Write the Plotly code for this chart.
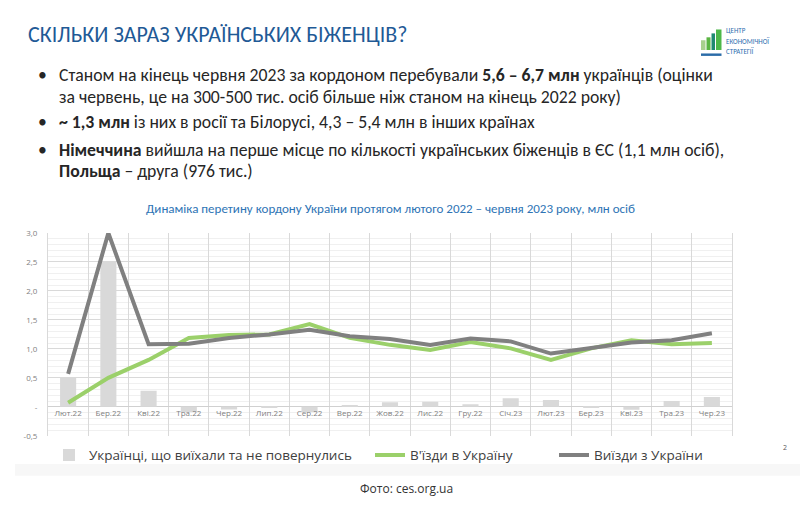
import plotly.graph_objects as go

W, H = 808, 511

months = ["Лют.22", "Бер.22", "Кві.22", "Тра.22", "Чер.22", "Лип.22", "Сер.22", "Вер.22",
          "Жов.22", "Лис.22", "Гру.22", "Січ.23", "Лют.23", "Бер.23", "Кві.23", "Тра.23", "Чер.23"]
net_left = [0.51, 2.50, 0.28, -0.09, -0.045, -0.005, -0.09, 0.03,
            0.08, 0.09, 0.045, 0.15, 0.12, -0.02, -0.05, 0.10, 0.17]
entries = [0.07, 0.50, 0.81, 1.19, 1.24, 1.25, 1.43, 1.19,
           1.07, 0.98, 1.12, 1.01, 0.81, 1.01, 1.15, 1.08, 1.10]
exits = [0.57, 3.00, 1.08, 1.09, 1.19, 1.25, 1.33, 1.22,
         1.17, 1.07, 1.18, 1.13, 0.92, 1.01, 1.11, 1.15, 1.27]
y_ticks = [-0.5, 0, 0.5, 1.0, 1.5, 2.0, 2.5, 3.0]
y_tick_text = ["-0,5", "-", "0,5", "1,0", "1,5", "2,0", "2,5", "3,0"]

NARROW = "Carlito, 'Liberation Sans Narrow', 'DejaVu Sans Condensed', sans-serif"
SANS = "'Open Sans', 'Noto Sans', sans-serif"

def px(x):
    return x / W

def py(y):
    return 1 - y / H

plot_l, plot_r, plot_t, plot_b = 48, 732, 232, 439.3
ymin, ymax = -0.5, 3.0
dom_y = [py(plot_b), py(plot_t)]
zero_pos = dom_y[0] + (0 - ymin) / (ymax - ymin) * (dom_y[1] - dom_y[0])

fig = go.Figure()
fig.add_trace(go.Bar(x=months, y=net_left, name="Українці, що виїхали та не повернулись",
                     marker=dict(color="#D9D9D9", line=dict(width=0)), legend="legend"))
fig.add_trace(go.Scatter(x=months, y=entries, name="В'їзди в Україну", mode="lines",
                         line=dict(color="#9BD06A", width=4), legend="legend2"))
fig.add_trace(go.Scatter(x=months, y=exits, name="Виїзди з України", mode="lines",
                         line=dict(color="#808080", width=4), legend="legend3"))

legend_common = dict(orientation="h", xanchor="left", yanchor="middle", bgcolor="rgba(0,0,0,0)",
                     font=dict(family=SANS, size=13.5, color="#404040"), itemwidth=30,
                     tracegroupgap=0)

shapes = [
    dict(type="rect", xref="paper", yref="paper", x0=px(15), x1=px(800), y0=py(480), y1=py(468),
         fillcolor="#F7F7F7", line=dict(width=0), layer="below"),
    # logo
    dict(type="rect", xref="paper", yref="paper", x0=px(701), x1=px(705.5), y0=py(45), y1=py(35),
         fillcolor="#A8D08D", line=dict(width=0)),
    dict(type="rect", xref="paper", yref="paper", x0=px(706.5), x1=px(710.5), y0=py(45), y1=py(32),
         fillcolor="#5BB543", line=dict(width=0)),
    dict(type="rect", xref="paper", yref="paper", x0=px(711.5), x1=px(715), y0=py(45), y1=py(28),
         fillcolor="#1F8A70", line=dict(width=0)),
    dict(type="rect", xref="paper", yref="paper", x0=px(716), x1=px(721.5), y0=py(45), y1=py(24),
         fillcolor="#4DB848", line=dict(width=0)),
    dict(type="rect", xref="paper", yref="paper", x0=px(701), x1=px(721.5), y0=py(51), y1=py(48.5),
         fillcolor="#2B6CA8", line=dict(width=0)),
]

ann = []
def text(x, y, s, size, color, family=NARROW, xanchor="left"):
    ann.append(dict(x=px(x), y=py(y), xref="paper", yref="paper", text=s, showarrow=False,
                    xanchor=xanchor, yanchor="middle", font=dict(family=family, size=size, color=color)))

text(26, 29, "СКІЛЬКИ ЗАРАЗ УКРАЇНСЬКИХ БІЖЕНЦІВ?", 22, "#1F5A96")
text(724, 25, "ЦЕНТР", 7, "#2F6FAF")
text(724, 36, "ЕКОНОМІЧНОЇ", 7, "#2F6FAF")
text(724, 47, "СТРАТЕГІЇ", 7, "#2F6FAF")

body = "#262626"
bsize = 17.7
for yb in (71, 119, 147):
    text(36, yb, "•", bsize, body)
text(57, 71, "Станом на кінець червня 2023 за кордоном перебували <b>5,6 – 6,7 млн</b> українців (оцінки", bsize, body)
text(57, 93, "за червень, це на 300-500 тис. осіб більше ніж станом на кінець 2022 року)", bsize, body)
text(57, 119, "<b>~ 1,3 млн</b> із них в росії та Білорусі, 4,3 – 5,4 млн в інших країнах", bsize, body)
text(57, 147, "<b>Німеччина</b> вийшла на перше місце по кількості українських біженців в ЄС (1,1 млн осіб),", bsize, body)
text(57, 169, "<b>Польща</b> – друга (976 тис.)", bsize, body)

text(390, 207, "Динаміка перетину кордону України протягом лютого 2022 – червня 2023 року, млн осіб",
     13, "#2E74B5", xanchor="center")
text(785, 451, "2", 7, "#595959", family=SANS, xanchor="center")
text(406, 493, "Фото: ces.org.ua", 12, "#333333", family=SANS, xanchor="center")

fig.update_layout(
    width=W, height=H,
    margin=dict(l=0, r=0, t=0, b=0),
    paper_bgcolor="white", plot_bgcolor="white",
    bargap=0.6,
    showlegend=True,
    legend=dict(x=px(49), y=py(459), **legend_common),
    legend2=dict(x=px(370), y=py(459), **legend_common),
    legend3=dict(x=px(554), y=py(459), **legend_common),
    xaxis=dict(domain=[px(plot_l), px(plot_r)], anchor="free", position=zero_pos,
               type="category", tickson="boundaries", ticks="", showgrid=True,
               gridcolor="#D9D9D9", gridwidth=1, showline=False, range=[-0.5, 16.5],
               tickfont=dict(family=SANS, size=8, color="#7F7F7F")),
    yaxis=dict(domain=dom_y, range=[ymin, ymax], tickvals=y_ticks, ticktext=y_tick_text,
               showgrid=True, gridcolor="#D9D9D9", gridwidth=1, zeroline=True,
               zerolinecolor="#D0D0D0", zerolinewidth=1, showline=True, mirror=True,
               linecolor="#D9D9D9", linewidth=1, ticks="", ticklabelstandoff=8,
               tickfont=dict(family=SANS, size=8, color="#7F7F7F"),
               minor=dict(dtick=0.1, showgrid=True, gridcolor="#F0F0F0", gridwidth=1)),
    shapes=shapes,
    annotations=ann,
)

fig.write_html("out.html", config={"displayModeBar": False},
               post_script="document.body.style.margin='0';")
